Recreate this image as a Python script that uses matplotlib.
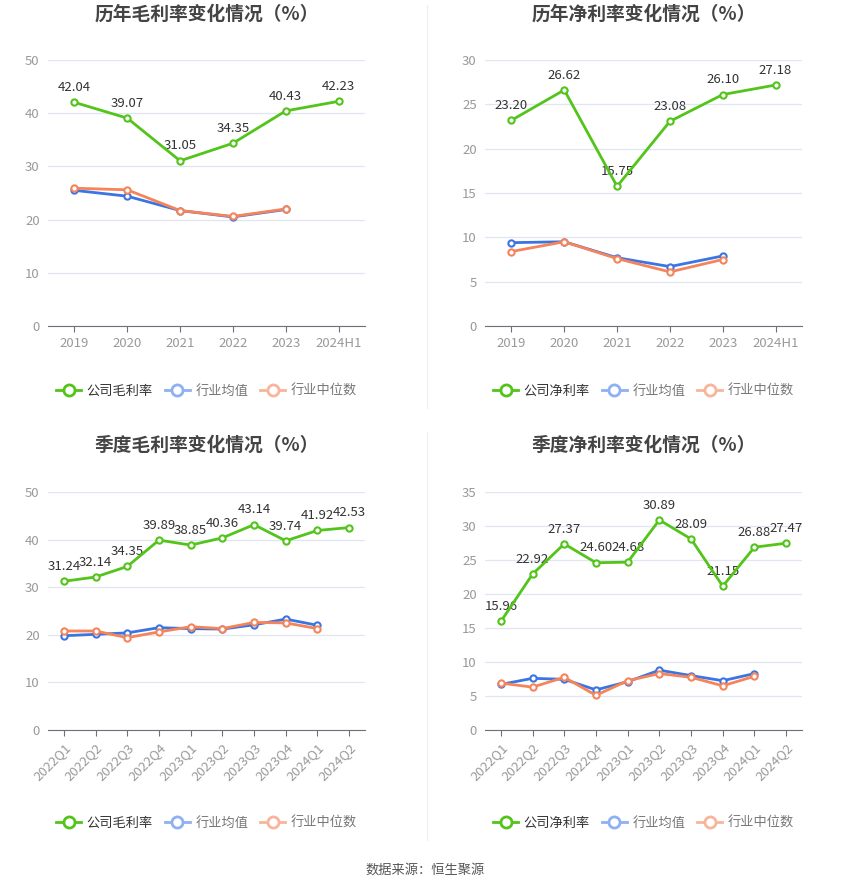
import numpy as np
import matplotlib.pyplot as plt
from matplotlib.lines import Line2D

plt.rcParams["font.family"] = ["Noto Sans CJK SC", "DejaVu Sans"]

years = ["2019", "2020", "2021", "2022", "2023", "2024H1"]
quarters = ["2022Q1", "2022Q2", "2022Q3", "2022Q4", "2023Q1",
            "2023Q2", "2023Q3", "2023Q4", "2024Q1", "2024Q2"]

gross_company = [42.04, 39.07, 31.05, 34.35, 40.43, 42.23]
gross_mean = [25.5, 24.4, 21.7, 20.5, 21.9]
gross_median = [25.9, 25.6, 21.7, 20.6, 22.0]

net_company = [23.20, 26.62, 15.75, 23.08, 26.10, 27.18]
net_mean = [9.4, 9.5, 7.7, 6.7, 7.9]
net_median = [8.4, 9.5, 7.6, 6.1, 7.5]

q_gross_company = [31.24, 32.14, 34.35, 39.89, 38.85, 40.36, 43.14, 39.74, 41.92, 42.53]
q_gross_mean = [19.8, 20.1, 20.4, 21.5, 21.3, 21.2, 22.1, 23.3, 22.0]
q_gross_median = [20.8, 20.8, 19.4, 20.6, 21.7, 21.3, 22.6, 22.5, 21.3]

q_net_company = [15.96, 22.92, 27.37, 24.60, 24.68, 30.89, 28.09, 21.15, 26.88, 27.47]
q_net_mean = [6.7, 7.6, 7.45, 5.9, 7.1, 8.8, 8.0, 7.25, 8.3]
q_net_median = [6.9, 6.3, 7.75, 5.1, 7.25, 8.3, 7.75, 6.5, 7.9]

GREEN = "#52c41a"
BLUE = "#3b74e3"
ORANGE = "#f5845a"
BLUE_L = "#8fb0f2"
ORANGE_L = "#f9b59c"

W, H = 850, 891


def rect(l, r, t, b):
    return [l / W, 1 - b / H, (r - l) / W, (b - t) / H]


def draw_panel(fig, r, title, title_y, cats, comp, mean, median, ymax, ystep,
               labels, legend_y, rotate=False):
    ax = fig.add_axes(r)
    x = np.arange(len(cats))
    mk = dict(marker="o", markersize=4.5, markerfacecolor="white",
              markeredgewidth=1.5, linewidth=2)
    ax.plot(x[:len(mean)], mean, color=BLUE, markeredgecolor=BLUE, **mk, zorder=3)
    ax.plot(x[:len(median)], median, color=ORANGE, markeredgecolor=ORANGE, **mk, zorder=3)
    ax.plot(x, comp, color=GREEN, markeredgecolor=GREEN, **mk, zorder=4)
    for xi, v in zip(x, comp):
        ax.annotate(f"{v:.2f}", (xi, v), xytext=(0, 6), textcoords="offset points",
                    ha="center", va="bottom", fontsize=9.5, color="#333333")
    ax.set_xlim(-0.5, len(cats) - 0.5)
    ax.set_ylim(0, ymax)
    ax.set_yticks(np.arange(0, ymax + 0.1, ystep))
    ax.set_xticks(x)
    if rotate:
        ax.set_xticklabels(cats, rotation=45, ha="right", rotation_mode="anchor")
    else:
        ax.set_xticklabels(cats)
    ax.grid(axis="y", color="#e0e6f1", linewidth=0.9)
    ax.set_axisbelow(True)
    for s in ["left", "right", "top"]:
        ax.spines[s].set_visible(False)
    ax.spines["bottom"].set_color("#6e7079")
    ax.tick_params(axis="y", length=0, labelsize=9.5, labelcolor="#999999", pad=6)
    ax.tick_params(axis="x", length=4, color="#6e7079", labelsize=9.5,
                   labelcolor="#999999", pad=4)

    cx = r[0] + r[2] / 2
    fig.text(cx, 1 - title_y / H, title, ha="center", va="center",
             fontsize=13.5, fontweight="bold", color="#444444")

    hk = dict(marker="o", markersize=8, markerfacecolor="white",
              markeredgewidth=2, linewidth=2)
    handles = [Line2D([], [], color=GREEN, **hk),
               Line2D([], [], color=BLUE_L, **hk),
               Line2D([], [], color=ORANGE_L, **hk)]
    leg = fig.legend(handles, labels, loc="center", bbox_to_anchor=(cx, 1 - legend_y / H),
                     ncol=3, frameon=False, fontsize=9.5,
                     handlelength=1.9, handletextpad=0.4, columnspacing=0.9)
    for i, t in enumerate(leg.get_texts()):
        t.set_color("#333333" if i == 0 else "#777777")
    return ax


fig = plt.figure(figsize=(8.5, 8.91), dpi=100)

labels_g = ["公司毛利率", "行业均值", "行业中位数"]
labels_n = ["公司净利率", "行业均值", "行业中位数"]

draw_panel(fig, rect(48, 365, 60, 326), "历年毛利率变化情况（%）", 14, years,
           gross_company, gross_mean, gross_median, 50, 10, labels_g, 391)
draw_panel(fig, rect(485, 802, 60, 326), "历年净利率变化情况（%）", 14, years,
           net_company, net_mean, net_median, 30, 5, labels_n, 391)
draw_panel(fig, rect(48, 365, 492, 730), "季度毛利率变化情况（%）", 445, quarters,
           q_gross_company, q_gross_mean, q_gross_median, 50, 10, labels_g, 823, True)
draw_panel(fig, rect(485, 802, 492, 730), "季度净利率变化情况（%）", 445, quarters,
           q_net_company, q_net_mean, q_net_median, 35, 5, labels_n, 823, True)

# faint separators between panels
fig.add_artist(Line2D([427 / W, 427 / W], [1 - 5 / H, 1 - 408 / H],
                      color="#f0f0f0", linewidth=1))
fig.add_artist(Line2D([427 / W, 427 / W], [1 - 432 / H, 1 - 840 / H],
                      color="#f0f0f0", linewidth=1))

fig.text(0.5, 1 - 870 / H, "数据来源：恒生聚源", ha="center", va="center",
         fontsize=9.5, color="#555555")

fig.savefig("out.png", dpi=100)
